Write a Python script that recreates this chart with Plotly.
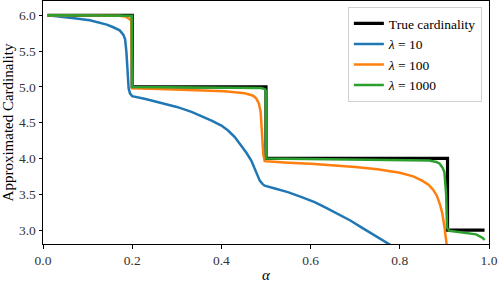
import plotly.graph_objects as go

# True cardinality (step function)
alpha_true = [0.01, 0.2, 0.5, 0.907, 0.99]
card_true = [6, 5, 4, 3, 3]

# lambda = 10
alpha_l10 = [0.01, 0.04, 0.07, 0.105, 0.12, 0.143, 0.155, 0.165, 0.172, 0.18, 0.184,
             0.187, 0.19, 0.192, 0.195, 0.199, 0.2, 0.23, 0.258, 0.3, 0.333, 0.36,
             0.378, 0.4, 0.415, 0.43, 0.445, 0.456, 0.467, 0.478, 0.486, 0.492,
             0.497, 0.52, 0.549, 0.58, 0.609, 0.635, 0.661, 0.69, 0.713, 0.735,
             0.751, 0.777, 0.79]
card_l10 = [6.0, 5.985, 5.96, 5.93, 5.91, 5.87, 5.84, 5.81, 5.79, 5.73, 5.67,
            5.49, 5.21, 4.98, 4.91, 4.88, 4.87, 4.83, 4.79, 4.72, 4.65, 4.58,
            4.53, 4.46, 4.39, 4.30, 4.18, 4.08, 3.97, 3.80, 3.69, 3.645,
            3.62, 3.58, 3.53, 3.46, 3.39, 3.31, 3.23, 3.13, 3.04, 2.96,
            2.90, 2.80, 2.75]

# lambda = 100
alpha_l100 = [0.01, 0.1, 0.17, 0.185, 0.192, 0.196, 0.198, 0.2, 0.26, 0.333, 0.407,
              0.452, 0.47, 0.478, 0.484, 0.488, 0.491, 0.494, 0.497, 0.5, 0.55,
              0.6, 0.7, 0.75, 0.8, 0.83, 0.85, 0.865, 0.875, 0.883, 0.89,
              0.895, 0.9, 0.903, 0.906]
card_l100 = [6.0, 6.0, 5.995, 5.985, 5.96, 5.94, 5.92, 4.98, 4.97, 4.96, 4.94,
             4.91, 4.88, 4.84, 4.77, 4.65, 4.35, 4.05, 3.965, 3.96, 3.94,
             3.925, 3.88, 3.85, 3.80, 3.75, 3.69, 3.63, 3.56, 3.48, 3.36,
             3.24, 3.05, 2.90, 2.75]

# lambda = 1000
alpha_l1000 = [0.01, 0.199, 0.2, 0.45, 0.49, 0.497, 0.4995, 0.5, 0.75, 0.866, 0.882,
               0.889, 0.896, 0.9, 0.904, 0.906, 0.911, 0.941, 0.971, 0.986, 0.99]
card_l1000 = [6.0, 5.995, 5.0, 4.995, 4.985, 4.97, 4.95, 4.0, 3.98, 3.97, 3.95,
              3.93, 3.87, 3.81, 3.49, 3.03, 2.99, 2.97, 2.94, 2.89, 2.86]

x_ticks = [0.0, 0.2, 0.4, 0.6, 0.8, 1.0]
y_ticks = [3.0, 3.5, 4.0, 4.5, 5.0, 5.5, 6.0]

FONT = "Liberation Serif"

fig = go.Figure()
fig.add_trace(go.Scatter(x=alpha_true, y=card_true, mode="lines", line_shape="hv",
                         line=dict(color="black", width=3.2), name="True cardinality"))
fig.add_trace(go.Scatter(x=alpha_l10, y=card_l10, mode="lines",
                         line=dict(color="#1f77b4", width=2.5), name="<i>λ</i> = 10"))
fig.add_trace(go.Scatter(x=alpha_l100, y=card_l100, mode="lines",
                         line=dict(color="#ff7f0e", width=2.5), name="<i>λ</i> = 100"))
fig.add_trace(go.Scatter(x=alpha_l1000, y=card_l1000, mode="lines",
                         line=dict(color="#2ca02c", width=2.5), name="<i>λ</i> = 1000"))

axis_common = dict(showgrid=False, zeroline=False, showline=True, mirror=True,
                   linecolor="black", linewidth=1, ticks="outside", ticklen=3.5,
                   tickcolor="black", tickwidth=0.8, automargin=False,
                   tickfont=dict(family=FONT, size=13.5, color="#333"))

fig.update_layout(
    width=499, height=283,
    margin=dict(l=43, r=10, t=1, b=39),
    paper_bgcolor="white", plot_bgcolor="white",
    font=dict(family=FONT, size=13, color="black"),
    xaxis=dict(range=[0, 1], tickvals=x_ticks, tickformat=".1f",
               title=dict(text="<i>α</i>", font=dict(size=15), standoff=2),
               **axis_common),
    yaxis=dict(range=[2.805, 6.2], tickvals=y_ticks, tickformat=".1f",
               title=dict(text="Approximated Cardinality", font=dict(size=15), standoff=3),
               **axis_common),
    legend=dict(x=0.984, y=0.975, xanchor="right", yanchor="top",
                bgcolor="rgba(255,255,255,0.8)", bordercolor="#d0d0d0", borderwidth=1,
                font=dict(family=FONT, size=13.5)),
    showlegend=True,
)

fig.write_html("out.html", config={"displayModeBar": False},
               post_script="document.body.style.margin='0';document.body.style.padding='0';")
